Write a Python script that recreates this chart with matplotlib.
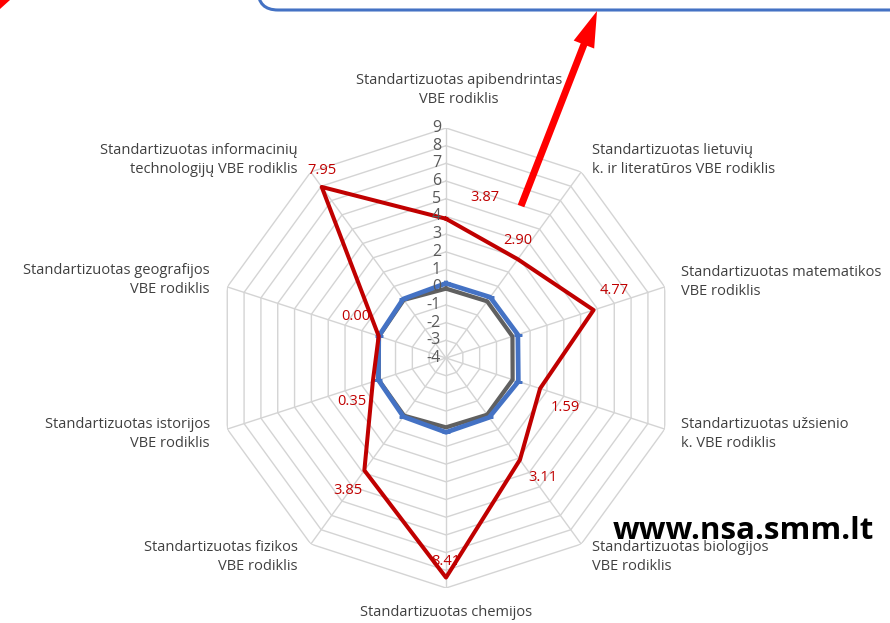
import numpy as np
import matplotlib
matplotlib.use("Agg")
import matplotlib.pyplot as plt
from matplotlib.patches import FancyBboxPatch, FancyArrow, Polygon

# ---------------- data ----------------
categories = [
    "Standartizuotas apibendrintas\nVBE rodiklis",
    "Standartizuotas lietuvių\nk. ir literatūros VBE rodiklis",
    "Standartizuotas matematikos\nVBE rodiklis",
    "Standartizuotas užsienio\nk. VBE rodiklis",
    "Standartizuotas biologijos\nVBE rodiklis",
    "Standartizuotas chemijos",
    "Standartizuotas fizikos\nVBE rodiklis",
    "Standartizuotas istorijos\nVBE rodiklis",
    "Standartizuotas geografijos\nVBE rodiklis",
    "Standartizuotas informacinių\ntechnologijų VBE rodiklis",
]
red_values = [3.87, 2.90, 4.77, 1.59, 3.11, 8.41, 3.85, 0.35, 0.00, 7.95]
blue_values = [0.22, 0.25, 0.27, 0.30, 0.15, 0.20, 0.10, 0.02, 0.00, 0.12]
gray_values = [-0.08, -0.04, -0.05, -0.04, -0.04, -0.08, 0.03, 0.00, -0.02, 0.06]
tick_values = list(range(-4, 10))
r_min, r_max = -4, 9
website = "www.nsa.smm.lt"

# ---------------- figure ----------------
W, H = 890, 623
fig = plt.figure(figsize=(W / 100, H / 100), dpi=100)
fig.patch.set_facecolor("white")
FONT = ["Open Sans", "DejaVu Sans"]

cx, cy, R = 446, 358, 230
ax = fig.add_axes([(cx - R) / W, (H - cy - R) / H, 2 * R / W, 2 * R / H],
                  projection="polar")
ax.set_theta_zero_location("N")
ax.set_theta_direction(-1)
ax.set_ylim(r_min, r_max)
ax.grid(False)
ax.spines["polar"].set_visible(False)
ax.set_xticks([])
ax.set_yticks([])
ax.patch.set_alpha(0)

n = len(categories)
theta = np.arange(n) * 2 * np.pi / n
theta_c = np.append(theta, theta[0])

grid_color = "#d4d4d4"
for lvl in tick_values[1:]:
    ax.plot(theta_c, [lvl] * (n + 1), color=grid_color, lw=1.0, zorder=1)
for t in theta:
    ax.plot([t, t], [r_min, r_max], color=grid_color, lw=1.0, zorder=1)

def closed(v):
    return list(v) + [v[0]]

ax.plot(theta_c, closed(gray_values), color="#606060", lw=3.0, zorder=3)
ax.plot(theta_c, closed(blue_values), color="#4472C4", lw=3.4, zorder=4,
        marker="_", markersize=6, markeredgewidth=2)
ax.plot(theta_c, closed(red_values), color="#C00000", lw=2.9, zorder=5)

# radial tick labels
for v in tick_values:
    ax.annotate(str(v), xy=(0, v), xytext=(-5, 0), textcoords="offset pixels",
                ha="right", va="center", fontsize=11.5, color="#595959",
                family=FONT, zorder=6)

# value labels
offsets = [(39, 21), (0, 19), (21, 20), (25, -19), (23, -18),
           (0, 16), (-16, -20), (-21, -20), (-23, 20), (0, 16)]
for t, v, off in zip(theta, red_values, offsets):
    ax.annotate(f"{v:.2f}", xy=(t, v), xytext=off, textcoords="offset pixels",
                ha="center", va="center", fontsize=10.5, color="#C00000",
                family=FONT, zorder=6)

# category labels (figure pixel positions)
label_pos = [
    (459, 90, "center"), (592, 160, "left"), (681, 282, "left"),
    (681, 434, "left"), (592, 557, "left"), (446, 612, "center"),
    (298, 557, "right"), (210, 434, "right"), (210, 280, "right"),
    (298, 160, "right"),
]
for text, (x, y, ha) in zip(categories, label_pos):
    fig.text(x / W, 1 - y / H, text, ha=ha, va="center", multialignment=ha,
             fontsize=10.5, color="#404040", family=FONT, linespacing=1.38)

# ---------------- overlay decorations ----------------
ov = fig.add_axes([0, 0, 1, 1], zorder=10)
ov.set_xlim(0, W)
ov.set_ylim(H, 0)
ov.axis("off")
ov.patch.set_alpha(0)

box = FancyBboxPatch((258, -60), 700, 70,
                     boxstyle="round,pad=0,rounding_size=20",
                     ec="#4472C4", fc="none", lw=2.2)
ov.add_patch(box)
ov.add_patch(FancyArrow(521, 206, 597 - 521, 11 - 206, width=7,
                        head_width=22, head_length=36,
                        length_includes_head=True, color="#FF0000", lw=0))
ov.add_patch(Polygon([(0, 0), (10, 0), (0, 9)], closed=True,
                     color="#FF0000", lw=0))
ov.text(743, 531, website, ha="center", va="center", fontsize=22.5,
        fontweight="bold", color="black", family=["Open Sans", "DejaVu Sans"])

fig.savefig("out.png", dpi=100)
